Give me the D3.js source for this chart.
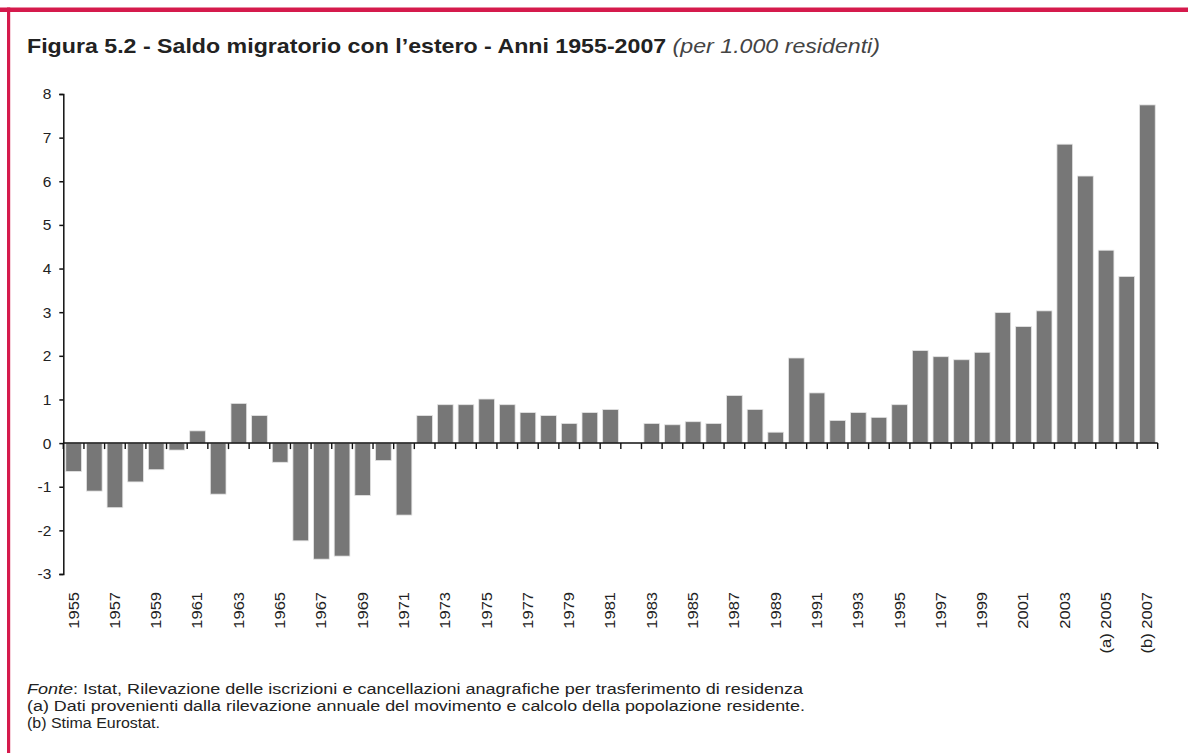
<!DOCTYPE html>
<html>
<head>
<meta charset="utf-8">
<script src="https://cdn.jsdelivr.net/npm/d3@7"></script>
<style>
  body { margin: 0; background: #fff; }
  svg { display: block; font-family: "Liberation Sans", Arial, sans-serif; }
</style>
</head>
<body>
<svg class="chart" width="1188" height="753"></svg>
<script>
(function() {
  // categories: one bar per year
  var years = d3.range(1955, 2008);

  // saldo migratorio con l'estero, per 1.000 residenti (1982 missing)
  var saldo = [
    -0.65, -1.10, -1.48, -0.89, -0.61, -0.16, 0.28, -1.17, 0.91, 0.63,
    -0.44, -2.24, -2.66, -2.59, -1.20, -0.40, -1.65, 0.63, 0.88, 0.88,
    1.01, 0.88, 0.70, 0.63, 0.45, 0.70, 0.77, null, 0.45, 0.42,
    0.49, 0.45, 1.09, 0.77, 0.25, 1.95, 1.15, 0.52, 0.70, 0.59,
    0.88, 2.12, 1.98, 1.91, 2.08, 2.99, 2.67, 3.03, 6.85, 6.12,
    4.42, 3.82, 7.75
  ];

  var yTicks = [-3, -2, -1, 0, 1, 2, 3, 4, 5, 6, 7, 8];
  var xLabelYears = [1955, 1957, 1959, 1961, 1963, 1965, 1967, 1969, 1971, 1973,
    1975, 1977, 1979, 1981, 1983, 1985, 1987, 1989, 1991, 1993, 1995, 1997,
    1999, 2001, 2003, 2005, 2007];
  var xLabelNotes = {2005: "(a) ", 2007: "(b) "};

  var titleMain = "Figura 5.2 - Saldo migratorio con l\u2019estero - Anni 1955-2007";
  var titleUnit = "(per 1.000 residenti)";
  var notes = [
    "Istat, Rilevazione delle iscrizioni e cancellazioni anagrafiche per trasferimento di residenza",
    "(a) Dati provenienti dalla rilevazione annuale del movimento e calcolo della popolazione residente.",
    "(b) Stima Eurostat."
  ];

  var data = years.map(function(y, i) { return {year: y, value: saldo[i]}; });

  var svg = d3.select(".chart");
  var margin = {top: 94, left: 63.3, right: 30.3, bottom: 179};
  var width = 1188 - margin.left - margin.right,
      height = 753 - margin.top - margin.bottom;

  // red frame
  svg.append("rect")
    .attr("x", 0).attr("y", 7.5).attr("width", 1188).attr("height", 4.5)
    .attr("fill", "#d51a4c");
  svg.append("rect")
    .attr("x", 7).attr("y", 7.5).attr("width", 3.2).attr("height", 760)
    .attr("fill", "#d51a4c");

  // title
  var title = svg.append("text")
    .attr("x", 27).attr("y", 53)
    .style("font-size", "21px")
    .attr("fill", "#222")
    .attr("textLength", 853)
    .attr("lengthAdjust", "spacingAndGlyphs");
  title.append("tspan").style("font-weight", "bold").text(titleMain);
  title.append("tspan").style("font-style", "italic")
    .attr("fill", "#444").text(" " + titleUnit);

  var chart = svg.append("g")
    .attr("transform", "translate(" + margin.left + "," + margin.top + ")");

  var xScale = d3.scaleBand()
    .domain(years)
    .range([0, width])
    .paddingInner(0.24)
    .paddingOuter(0.12);

  var yScale = d3.scaleLinear()
    .domain([-3, 8])
    .range([height, 0]);

  // bars
  chart.selectAll("rect.bar")
    .data(data.filter(function(d) { return d.value !== null; }))
    .enter().append("rect")
    .attr("class", "bar")
    .attr("x", function(d) { return xScale(d.year); })
    .attr("width", xScale.bandwidth())
    .attr("y", function(d) { return yScale(Math.max(0, d.value)); })
    .attr("height", function(d) { return Math.abs(yScale(d.value) - yScale(0)); })
    .attr("fill", "#777777")
    .attr("stroke", "#e4e4e4")
    .attr("stroke-width", 0.8);

  // y axis
  var yAxis = d3.axisLeft(yScale)
    .tickValues(yTicks)
    .tickFormat(function(d) { return String(d); })
    .tickSize(4)
    .tickPadding(8);

  var gy = chart.append("g").call(yAxis);
  gy.select(".domain").attr("stroke", "#111").attr("stroke-width", 1.5);
  gy.selectAll(".tick line").attr("stroke", "#111").attr("stroke-width", 1.5);
  gy.selectAll(".tick text")
    .style("font-size", "15.5px")
    .style("font-family", "\"Liberation Sans\", Arial, sans-serif")
    .attr("fill", "#222");

  // zero line with ticks at band boundaries
  var step = xScale.step();
  var boundaries = years.map(function(y) { return xScale(y) - step * xScale.paddingInner() / 2; });
  boundaries.push(width);

  var zero = chart.append("g")
    .attr("transform", "translate(0," + yScale(0) + ")");
  zero.append("line")
    .attr("x1", 0).attr("x2", width)
    .attr("stroke", "#111").attr("stroke-width", 1.5);
  zero.selectAll("line.tk")
    .data(boundaries)
    .enter().append("line")
    .attr("class", "tk")
    .attr("x1", function(d) { return d; }).attr("x2", function(d) { return d; })
    .attr("y1", 0).attr("y2", 6)
    .attr("stroke", "#111").attr("stroke-width", 1.4);

  // x labels at the bottom of the plot
  var xAxis = d3.axisBottom(xScale)
    .tickValues(xLabelYears)
    .tickSize(0)
    .tickFormat(function(d) { return (xLabelNotes[d] || "") + d; });

  var gx = chart.append("g")
    .attr("transform", "translate(0," + (height + 18) + ")")
    .call(xAxis);
  gx.select(".domain").remove();
  gx.selectAll(".tick text")
    .attr("transform", "rotate(-90) scale(1,0.85)")
    .attr("x", 0).attr("y", 0).attr("dy", "0.35em")
    .style("text-anchor", "end")
    .style("font-size", "16.5px")
    .style("font-family", "\"Liberation Sans\", Arial, sans-serif")
    .attr("fill", "#222");

  // footnotes
  var noteWidths = [776, 778, 133];
  var foot = svg.append("g")
    .style("font-size", "15.5px")
    .attr("fill", "#222");
  notes.forEach(function(t, i) {
    var line = foot.append("text")
      .attr("x", 27)
      .attr("y", 694 + i * 17)
      .attr("textLength", noteWidths[i])
      .attr("lengthAdjust", "spacingAndGlyphs");
    if (i === 0) {
      line.append("tspan").style("font-style", "italic").text("Fonte");
      line.append("tspan").text(": " + t);
    } else {
      line.text(t);
    }
  });
})();
</script>
</body>
</html>
